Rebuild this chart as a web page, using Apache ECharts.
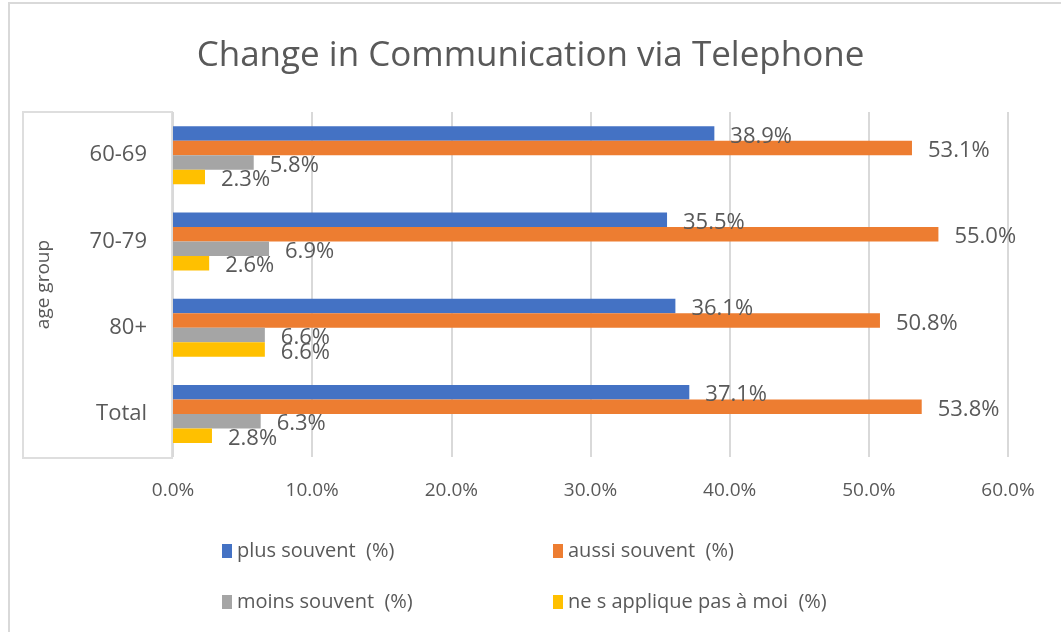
<!DOCTYPE html>
<html>
<head>
<meta charset="utf-8">
<script src="https://cdn.jsdelivr.net/npm/echarts@6/dist/echarts.min.js"></script>
<style>
  html, body { margin: 0; padding: 0; background: #fff; }
  #main { width: 1061px; height: 632px; }
</style>
</head>
<body>
<div id="main"></div>
<script>
var ageGroups = ['60-69', '70-79', '80+', 'Total'];
var seriesNames = ['plus souvent  (%)', 'aussi souvent  (%)', 'moins souvent  (%)', 'ne s applique pas à moi  (%)'];
var plusSouvent = [38.9, 35.5, 36.1, 37.1];
var aussiSouvent = [53.1, 55.0, 50.8, 53.8];
var moinsSouvent = [5.8, 6.9, 6.6, 6.3];
var neSAppliquePas = [2.3, 2.6, 6.6, 2.8];
var xTicks = [0, 10, 20, 30, 40, 50, 60];

var colors = ['#4472C4', '#ED7D31', '#A5A5A5', '#FFC000'];
var textColor = '#595959';
var font = '"Open Sans", "Noto Sans", sans-serif';

var chart = echarts.init(document.getElementById('main'));

function makeSeries(name, data, color) {
    return {
        name: name,
        type: 'bar',
        data: data,
        barWidth: 14.5,
        barGap: '0%',
        itemStyle: { color: color },
        label: {
            show: true,
            position: 'right',
            distance: 16,
            offset: [0, 3],
            color: textColor,
            fontFamily: font,
            fontSize: 22,
            formatter: function (p) { return p.value.toFixed(1) + '%'; }
        }
    };
}

var legendPos = [[217, 536], [548, 536], [217, 587], [548, 587]];
var legends = seriesNames.map(function (n, i) {
    return {
        data: [n],
        left: legendPos[i][0],
        top: legendPos[i][1],
        icon: 'rect',
        itemWidth: 10,
        itemHeight: 14,
        textStyle: { color: textColor, fontFamily: font, fontSize: 20 },
        selectedMode: false
    };
});

chart.setOption({
    backgroundColor: '#fff',
    animation: false,
    color: colors,
    title: {
        text: 'Change in Communication via Telephone',
        left: 'center',
        top: 34,
        textStyle: { color: textColor, fontFamily: font, fontSize: 35, fontWeight: 'normal' }
    },
    graphic: [
        {
            type: 'rect',
            shape: { x: 9, y: 3, width: 1070, height: 660 },
            style: { fill: 'none', stroke: '#d9d9d9', lineWidth: 2 },
            silent: true
        },
        {
            type: 'rect',
            shape: { x: 23, y: 112, width: 149, height: 346 },
            style: { fill: 'none', stroke: '#dedede', lineWidth: 2 },
            silent: true
        }
    ],
    legend: legends,
    grid: { left: 173, right: 53, top: 112, height: 345, containLabel: false },
    xAxis: {
        type: 'value',
        min: xTicks[0],
        max: xTicks[xTicks.length - 1],
        interval: 10,
        axisLine: { show: false },
        axisTick: { show: false },
        splitLine: { show: true, lineStyle: { color: '#d9d9d9', width: 2 } },
        axisLabel: {
            color: textColor,
            fontFamily: font,
            fontSize: 19,
            margin: 24,
            formatter: function (v) { return v.toFixed(1) + '%'; }
        }
    },
    yAxis: {
        type: 'category',
        data: ageGroups,
        inverse: true,
        name: 'age group',
        nameLocation: 'middle',
        nameGap: 120,
        nameRotate: 90,
        nameTextStyle: { color: textColor, fontFamily: font, fontSize: 19 },
        axisLine: { show: false },
        axisTick: { show: false },
        axisLabel: { color: textColor, fontFamily: font, fontSize: 22, margin: 26 }
    },
    series: [
        makeSeries(seriesNames[0], plusSouvent, colors[0]),
        makeSeries(seriesNames[1], aussiSouvent, colors[1]),
        makeSeries(seriesNames[2], moinsSouvent, colors[2]),
        makeSeries(seriesNames[3], neSAppliquePas, colors[3])
    ]
});
</script>
</body>
</html>
